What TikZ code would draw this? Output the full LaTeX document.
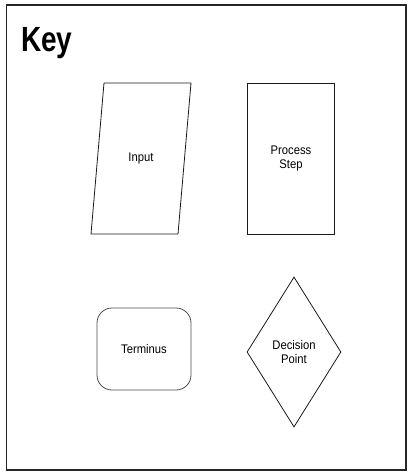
\documentclass[tikz,border=0pt]{standalone}
\usepackage{fontspec}
\setmainfont{Liberation Sans}
\newfontfamily\keyfont[FakeStretch=0.8]{Liberation Sans}
\newfontfamily\shapefont[FakeStretch=0.9]{Liberation Sans}
\usetikzlibrary{shapes.geometric}

\begin{document}
\begin{tikzpicture}[
  x=1pt, y=-1pt,
  keyline/.style={draw=black!90, line width=0.8pt},
  keyshape/.style={keyline, align=center,
    font=\shapefont\fontsize{12.5}{14.5}\selectfont, inner sep=2pt},
  procbox/.style={keyshape, rectangle, minimum width=87pt, minimum height=151pt},
  termbox/.style={keyshape, draw=black!70, rectangle, rounded corners=15pt,
    minimum width=94pt, minimum height=82pt},
  decbox/.style={keyshape, diamond, minimum width=94pt, minimum height=150pt}
]
\useasboundingbox (0,0) rectangle (408,476);

% frame and title
\draw[line width=1.3pt, black!85] (6.5,5) rectangle (406,470);
\node[anchor=base west, inner sep=0pt, font=\keyfont\bfseries\fontsize{35}{35}\selectfont]
  (key) at (21,51.7) {Key};

% the four symbols
\node[keyshape, draw=none] (input) at (141,158.5) {Input};
\draw[keyline, shift={(input.center)}]
  (-37,-75.5) -- (50,-75.5) -- (37,75.5) -- (-50,75.5) -- cycle;
\node[procbox] (process) at (291,158.5) {Process\\Step};
\node[termbox] (terminus) at (144,349) {Terminus};
\node[decbox] (decision) at (294,352) {Decision\\Point};

\end{tikzpicture}
\end{document}
